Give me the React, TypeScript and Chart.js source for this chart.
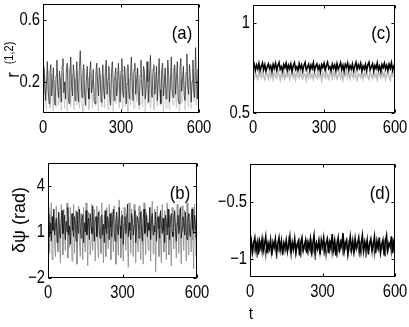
import React, { useEffect, useRef } from "react";
import { Chart, registerables } from "chart.js";
Chart.register(...registerables);

const W = 409;
const H = 327;
const timeSpan = [0, 600];
const xTicks = [0, 300, 600];

const aBlack = [
  0.12, 0.30, 0.22, 0.08, 0.18, 0.33, 0.15, 0.06, 0.26, 0.31,
  0.11, 0.19, 0.29, 0.09, 0.05, 0.24, 0.34, 0.17, 0.10, 0.27,
  0.21, 0.07, 0.30, 0.35, 0.13, 0.20, 0.09, 0.28, 0.32, 0.12,
  0.06, 0.23, 0.36, 0.18, 0.11, 0.31, 0.25, 0.08, 0.19, 0.33,
  0.14, 0.07, 0.29, 0.40, 0.22, 0.10, 0.26, 0.31, 0.12, 0.05,
  0.21, 0.30, 0.16, 0.09, 0.27, 0.33, 0.13, 0.18, 0.28, 0.08,
  0.06, 0.25, 0.32, 0.20, 0.11, 0.29, 0.24, 0.07, 0.17, 0.31,
  0.15, 0.09, 0.28, 0.34, 0.12, 0.22, 0.30, 0.10, 0.05, 0.26,
  0.33, 0.19, 0.08, 0.24, 0.29, 0.11, 0.16, 0.32, 0.21, 0.07,
  0.27, 0.35, 0.14, 0.10, 0.30, 0.23, 0.06, 0.19, 0.31, 0.13,
  0.09, 0.26, 0.36, 0.17, 0.08, 0.28, 0.32, 0.12, 0.21, 0.29,
  0.10, 0.05, 0.24, 0.34, 0.18, 0.11, 0.30, 0.27, 0.09, 0.16,
  0.33, 0.20, 0.07, 0.25, 0.37, 0.14, 0.10, 0.28, 0.31, 0.12,
  0.18, 0.30, 0.08, 0.22, 0.35, 0.15, 0.06, 0.27, 0.32, 0.11,
  0.20, 0.29, 0.09, 0.13, 0.34, 0.24, 0.07, 0.19, 0.36, 0.16,
  0.10, 0.28, 0.31, 0.12, 0.23, 0.33, 0.09, 0.06, 0.29, 0.35,
  0.14, 0.21, 0.30, 0.11, 0.08, 0.26, 0.38, 0.17, 0.12, 0.31,
  0.24, 0.07, 0.20, 0.34, 0.13, 0.10, 0.42, 0.22, 0.09, 0.28,
  0.16,
];
const aGray = [
  0.04, 0.15, 0.24, 0.08, 0.02, 0.19, 0.27, 0.10, 0.03, 0.17,
  0.25, 0.06, 0.01, 0.21, 0.14, 0.04, 0.28, 0.18, 0.05, 0.11,
  0.23, 0.02, 0.09, 0.26, 0.16, 0.03, 0.20, 0.12, 0.01, 0.24,
  0.29, 0.07, 0.04, 0.18, 0.25, 0.09, 0.02, 0.22, 0.15, 0.05,
  0.27, 0.19, 0.03, 0.13, 0.24, 0.06, 0.01, 0.20, 0.28, 0.10,
  0.04, 0.16, 0.23, 0.02, 0.08, 0.26, 0.14, 0.03, 0.21, 0.18,
  0.05, 0.12, 0.27, 0.07, 0.01, 0.22, 0.25, 0.09, 0.04, 0.19,
  0.24, 0.03, 0.15, 0.28, 0.11, 0.02, 0.20, 0.17, 0.05, 0.26,
  0.13, 0.01, 0.23, 0.21, 0.06, 0.10, 0.27, 0.08, 0.03, 0.18,
  0.25, 0.12, 0.02, 0.24, 0.16, 0.04, 0.29, 0.14, 0.01, 0.20,
  0.22, 0.05, 0.11, 0.26, 0.09, 0.03, 0.19, 0.24, 0.07, 0.15,
  0.28, 0.02, 0.06, 0.21, 0.17, 0.04, 0.25, 0.13, 0.01, 0.23,
  0.19, 0.06, 0.14, 0.27, 0.03, 0.09, 0.24, 0.18, 0.02, 0.16,
  0.26, 0.08, 0.04, 0.22, 0.20, 0.05, 0.13, 0.28, 0.10, 0.01,
  0.18, 0.25, 0.03, 0.12, 0.23, 0.07, 0.02, 0.21, 0.26, 0.09,
  0.05, 0.17, 0.29, 0.11, 0.03, 0.24, 0.15, 0.01, 0.20, 0.22,
  0.06, 0.10, 0.27, 0.14, 0.02, 0.19, 0.25, 0.08, 0.04, 0.23,
  0.16, 0.03, 0.21, 0.28, 0.07, 0.12, 0.26, 0.05, 0.18, 0.24,
  0.09,
];

const bBlack = [
  1.3, 2.2, 0.7, 1.6, 0.4, 2.0, 1.1, 2.5, 0.8, 1.4,
  1.9, 0.3, 1.5, 2.3, 1.0, 0.6, 1.8, 2.4, 0.9, 1.2,
  2.1, 0.5, 1.7, 1.0, 2.6, 0.8, 1.4, 0.2, 1.9, 2.2,
  1.1, 0.7, 2.0, 1.5, 0.4, 2.3, 1.2, 0.9, 2.5, 1.3,
  0.6, 1.8, 2.1, 0.3, 1.6, 1.0, 2.4, 0.8, 1.5, 1.9,
  0.5, 2.2, 1.3, 0.9, 2.7, 1.1, 0.4, 1.7, 2.0, 0.7,
  1.4, 2.3, 1.0, 0.6, 1.9, 2.1, 0.8, 1.5, 0.3, 2.4,
  1.2, 0.9, 2.0, 1.6, 0.5, 2.2, 1.3, 0.7, 1.8, 2.5,
  1.0, 0.4, 1.7, 2.3, 1.1, 0.8, 2.6, 1.4, 0.6, 1.9,
  2.1, 0.2, 1.5, 2.0, 0.9, 1.3, 2.8, 0.7, 1.6, 1.1,
  0.5, 2.2, 1.8, 0.8, 1.4, 2.4, 0.3, 1.2, 2.0, 1.7,
  0.6, 1.5, 2.3, 1.0, 0.4, 1.9, 2.5, 0.9, 1.3, 2.1,
  0.7, 1.6, 1.1, 2.6, 0.5, 1.8, 2.2, 0.8, 1.4, 1.0,
  2.3, 0.4, 1.7, 2.0, 1.2, 0.6, 2.4, 1.5, 0.9, 1.9,
  1.1, 0.3, 2.1, 1.6, 0.8, 2.5, 1.3, 0.5, 1.8, 2.2,
  1.0, 0.7, 1.9, 2.4, 1.2, 0.4, 1.6, 2.1, 0.9, 1.4,
  2.6, 0.6, 1.3, 2.0, 1.7, 0.8, 2.3, 1.1, 0.5, 1.9,
  2.2, 1.0, 0.7, 1.8, 2.5, 1.2, 0.9, 2.1, 1.5, 0.6,
  1.4,
];
const bGray = [
  0.6, 2.6, -0.4, 1.8, 2.9, -0.8, 1.3, 2.4, 0.1, -0.6,
  2.7, 1.0, -0.3, 2.2, 0.4, -1.0, 2.8, 1.5, -0.5, 2.5,
  0.8, -0.2, 2.3, 2.9, -0.7, 1.2, 0.0, 2.6, 1.7, -0.9,
  0.5, 2.8, -0.4, 1.9, 2.4, -1.1, 0.9, 2.7, 0.3, -0.6,
  2.2, 1.4, -0.8, 2.6, 0.7, -0.3, 2.9, 1.1, -1.2, 2.3,
  1.6, -0.5, 0.4, 2.8, -0.2, 1.9, 2.5, -0.9, 1.0, 2.7,
  0.2, -0.7, 2.4, 1.3, -0.4, 2.9, 0.8, -1.0, 2.1, 1.7,
  -0.6, 2.6, 0.5, -0.1, 2.8, 1.2, -0.8, 2.3, 0.9, -0.3,
  2.7, 1.5, -1.1, 2.0, 0.6, -0.5, 3.1, 1.1, -0.7, 2.4,
  0.3, -0.9, 2.6, 1.8, -0.2, 2.2, 0.7, -1.3, 2.9, 1.4,
  -0.4, 2.5, 0.9, -0.6, 2.8, 1.6, -1.0, 2.1, 0.4, -0.3,
  2.7, 1.2, -0.8, 2.4, 0.6, -1.1, 2.9, 1.0, -0.5, 2.3,
  1.7, -0.2, 0.5, 2.6, -0.9, 1.9, 3.0, -0.4, 1.3, 2.5,
  -1.6, 0.8, 2.7, 1.1, -0.6, 2.2, 0.2, -1.0, 2.8, 1.5,
  -0.3, 2.4, 0.7, -0.8, 2.9, 1.2, -0.5, 2.1, 0.4, -1.2,
  2.6, 1.8, -0.1, 2.3, 0.9, -0.7, 2.8, 1.4, -0.4, 2.5,
  0.6, -1.1, 2.7, 1.0, -0.2, 2.4, 1.6, -0.9, 2.9, 0.8,
  -0.5, 2.2, 1.3, -0.3, 2.6, 0.5, -1.4, 2.8, 1.1, -0.6,
  1.9,
];

const cBlack = [
  0.752, 0.771, 0.738, 0.766, 0.744, 0.775, 0.735, 0.760, 0.778, 0.741,
  0.768, 0.733, 0.757, 0.773, 0.746, 0.762, 0.731, 0.770, 0.749, 0.776,
  0.739, 0.764, 0.781, 0.743, 0.758, 0.734, 0.769, 0.751, 0.777, 0.737,
  0.765, 0.745, 0.772, 0.732, 0.761, 0.779, 0.742, 0.756, 0.736, 0.774,
  0.748, 0.767, 0.733, 0.763, 0.780, 0.740, 0.755, 0.771, 0.738, 0.766,
  0.747, 0.778, 0.735, 0.759, 0.773, 0.744, 0.762, 0.730, 0.769, 0.753,
  0.776, 0.739, 0.764, 0.782, 0.746, 0.757, 0.734, 0.771, 0.750, 0.767,
  0.736, 0.774, 0.743, 0.760, 0.779, 0.741, 0.765, 0.732, 0.770, 0.754,
  0.777, 0.738, 0.763, 0.745, 0.772, 0.735, 0.758, 0.780, 0.742, 0.768,
  0.749, 0.775, 0.733, 0.761, 0.744, 0.770, 0.737, 0.766, 0.781, 0.740,
  0.756, 0.773, 0.734, 0.764, 0.747, 0.778, 0.739, 0.760, 0.731, 0.769,
  0.752, 0.776, 0.743, 0.765, 0.736, 0.771, 0.748, 0.779, 0.738, 0.762,
  0.757,
];
const cGray = [
  0.712, 0.694, 0.731, 0.702, 0.689, 0.725, 0.708, 0.697, 0.738, 0.703,
  0.686, 0.721, 0.714, 0.692, 0.734, 0.700, 0.718, 0.688, 0.727, 0.706,
  0.695, 0.740, 0.710, 0.684, 0.723, 0.701, 0.732, 0.693, 0.716, 0.705,
  0.728, 0.690, 0.711, 0.736, 0.698, 0.720, 0.687, 0.726, 0.709, 0.696,
  0.733, 0.704, 0.691, 0.719, 0.713, 0.685, 0.729, 0.702, 0.737, 0.699,
  0.715, 0.689, 0.724, 0.707, 0.694, 0.741, 0.703, 0.717, 0.682, 0.722,
  0.710, 0.696, 0.730, 0.701, 0.688, 0.726, 0.712, 0.693, 0.735, 0.704,
  0.719, 0.690, 0.708, 0.732, 0.697, 0.723, 0.686, 0.716, 0.706, 0.739,
  0.699, 0.721, 0.692, 0.728, 0.710, 0.695, 0.734, 0.703, 0.684, 0.718,
  0.713, 0.698, 0.727, 0.691, 0.720, 0.705, 0.737, 0.700, 0.688, 0.724,
  0.709, 0.694, 0.731, 0.702, 0.717, 0.687, 0.725, 0.711, 0.696, 0.738,
  0.704, 0.722, 0.690, 0.714, 0.729, 0.699, 0.683, 0.720, 0.707, 0.733,
  0.712,
];

const dBlack = [
  -0.88, -0.83, -0.94, -0.86, -0.81, -0.92, -0.85, -0.96, -0.84, -0.90,
  -0.82, -0.93, -0.87, -0.80, -0.95, -0.86, -0.91, -0.83, -0.97, -0.85,
  -0.89, -0.82, -0.94, -0.87, -0.81, -0.92, -0.84, -0.96, -0.86, -0.90,
  -0.83, -0.93, -0.88, -0.80, -0.95, -0.85, -0.91, -0.82, -0.94, -0.87,
  -0.84, -0.97, -0.86, -0.81, -0.92, -0.88, -0.83, -0.95, -0.85, -0.90,
  -0.82, -0.94, -0.87, -0.79, -0.93, -0.86, -0.91, -0.84, -0.96, -0.83,
  -0.89, -0.81, -0.93, -0.86, -0.82, -0.95, -0.85, -0.90, -0.78, -0.92,
  -0.84, -0.97, -0.87, -0.81, -0.94, -0.85, -0.89, -0.77, -0.93, -0.86,
  -0.83, -0.96, -0.88, -0.80, -0.92, -0.84, -0.95, -0.82, -0.90, -0.86,
  -0.81, -0.94, -0.87, -0.79, -0.93, -0.85, -0.91, -0.83, -0.96, -0.86,
  -0.82, -0.92, -0.88, -0.80, -0.95, -0.84, -0.90, -0.81, -0.94, -0.87,
  -0.83, -0.97, -0.85, -0.79, -0.92, -0.86, -0.89, -0.80, -0.95, -0.84,
  -0.87,
];
const dGray = [
  -0.91, -0.86, -0.97, -0.84, -0.93, -0.88, -0.99, -0.85, -0.92, -0.87,
  -0.95, -0.83, -0.90, -0.98, -0.86, -0.94, -0.89, -0.84, -0.96, -0.88,
  -0.92, -0.85, -1.00, -0.87, -0.93, -0.90, -0.84, -0.97, -0.86, -0.94,
  -0.89, -0.95, -0.83, -0.91, -0.98, -0.87, -0.93, -0.85, -0.96, -0.88,
  -0.90, -0.84, -0.99, -0.86, -0.94, -0.89, -0.92, -0.83, -0.97, -0.87,
  -0.93, -0.85, -0.95, -0.88, -1.01, -0.86, -0.91, -0.84, -0.96, -0.89,
  -0.87, -0.94, -0.85, -0.98, -0.90, -0.86, -0.93, -0.83, -0.96, -0.88,
  -0.92, -0.85, -0.99, -0.87, -0.94, -0.89, -0.84, -0.97, -0.86, -0.91,
  -0.88, -0.95, -0.83, -0.93, -0.90, -0.86, -0.98, -0.85, -0.92, -0.87,
  -0.94, -0.84, -0.96, -0.89, -0.91, -0.85, -0.99, -0.87, -0.93, -0.88,
  -0.86, -0.95, -0.84, -0.97, -0.90, -0.87, -0.92, -0.83, -0.96, -0.88,
  -0.91, -0.85, -0.98, -0.86, -0.94, -0.89, -0.87, -0.95, -0.84, -0.92,
  -0.90,
];

const aYTicks = [0.2, 0.6];
const bYTicks = [-2, 1, 4];
const cYTicks = [0.5, 1];
const dYTicks = [-1, -0.5];

const FONT = '"Liberation Sans", Arial, sans-serif';
const TICK_SIZE = 18;
const SQUEEZE = 0.82;

type Series = { data: number[]; color: string; width: number };
type Panel = {
  area: { l: number; t: number; r: number; b: number };
  yMin: number;
  yMax: number;
  yTicks: number[];
  series: Series[];
};

const panels: Panel[] = [
  {
    area: { l: 43, t: 4, r: 199, b: 113 },
    yMin: 0, yMax: 0.7, yTicks: aYTicks,
    series: [
      { data: aBlack, color: "#1a1a1a", width: 0.7 },
      { data: aGray, color: "#c4c4c4", width: 0.8 },
    ],
  },
  {
    area: { l: 48, t: 163, r: 197, b: 278 },
    yMin: -2, yMax: 5.5, yTicks: bYTicks,
    series: [
      { data: bBlack, color: "#111111", width: 0.8 },
      { data: bGray, color: "#8a8a8a", width: 0.8 },
    ],
  },
  {
    area: { l: 253, t: 5, r: 395, b: 113 },
    yMin: 0.5, yMax: 1.1, yTicks: cYTicks,
    series: [
      { data: cBlack, color: "#000000", width: 1.6 },
      { data: cGray, color: "#bdbdbd", width: 1.6 },
    ],
  },
  {
    area: { l: 250, t: 164, r: 395, b: 277 },
    yMin: -1.16, yMax: -0.16, yTicks: dYTicks,
    series: [
      { data: dBlack, color: "#000000", width: 1.5 },
      { data: dGray, color: "#5a5a5a", width: 1.2 },
    ],
  },
];

const fmt = (v: number) => String(v).replace("-", "\u2212");

const framePlugin = {
  id: "frame",
  afterDatasetsDraw(chart: any) {
    const { ctx, chartArea: a, scales } = chart;
    ctx.save();
    ctx.strokeStyle = "#000";
    ctx.lineWidth = 1;
    const L = Math.round(a.left) + 0.5;
    const R = Math.round(a.right) - 0.5;
    const T = Math.round(a.top) + 0.5;
    const B = Math.round(a.bottom) - 0.5;
    ctx.strokeRect(L, T, R - L, B - T);
    const tl = 3;
    ctx.beginPath();
    scales.x.ticks.forEach((t: any) => {
      const x = Math.round(scales.x.getPixelForValue(t.value)) + 0.5;
      ctx.moveTo(x, B);
      ctx.lineTo(x, B - tl);
      ctx.moveTo(x, T);
      ctx.lineTo(x, T + tl);
    });
    scales.y.ticks.forEach((t: any) => {
      const y = Math.round(scales.y.getPixelForValue(t.value)) + 0.5;
      ctx.moveTo(L, y);
      ctx.lineTo(L + tl, y);
      ctx.moveTo(R, y);
      ctx.lineTo(R - tl, y);
    });
    ctx.stroke();

    const drawLabel = (text: string, x: number, y: number, align: CanvasTextAlign) => {
      ctx.save();
      ctx.translate(x, y);
      ctx.scale(SQUEEZE, 1);
      ctx.fillStyle = "#000";
      ctx.font = `${TICK_SIZE}px ${FONT}`;
      ctx.textAlign = align;
      ctx.textBaseline = "middle";
      ctx.fillText(text, 0, 0);
      ctx.restore();
    };
    scales.x.ticks.forEach((t: any) => {
      drawLabel(fmt(t.value), scales.x.getPixelForValue(t.value), a.bottom + 15, "center");
    });
    scales.y.ticks.forEach((t: any) => {
      drawLabel(fmt(t.value), a.left - 3, scales.y.getPixelForValue(t.value), "right");
    });
    ctx.restore();
  },
};

function PanelChart({ panel }: { panel: Panel }) {
  const ref = useRef<HTMLCanvasElement>(null);
  useEffect(() => {
    const p = panel;
    const YW = 40;
    const XH = 30;
    const chart = new Chart(ref.current as HTMLCanvasElement, {
      type: "line",
      data: {
        datasets: p.series.map((s) => ({
          data: s.data.map((y, i) => ({
            x: timeSpan[0] + (i * (timeSpan[1] - timeSpan[0])) / (s.data.length - 1),
            y,
          })),
          borderColor: s.color,
          borderWidth: s.width,
          pointRadius: 0,
          tension: 0,
          fill: false,
        })),
      },
      options: {
        responsive: false,
        animation: false,
        events: [],
        layout: {
          padding: {
            left: p.area.l - YW,
            top: p.area.t,
            right: W - p.area.r,
            bottom: H - p.area.b - XH,
          },
        },
        plugins: { legend: { display: false }, tooltip: { enabled: false } },
        scales: {
          x: {
            type: "linear",
            min: timeSpan[0],
            max: timeSpan[1],
            afterBuildTicks: (s: any) => {
              s.ticks = xTicks.map((v) => ({ value: v }));
            },
            afterFit: (s: any) => {
              s.height = XH;
            },
            grid: { display: false, drawTicks: false },
            border: { display: false },
            ticks: { display: false },
          },
          y: {
            type: "linear",
            min: p.yMin,
            max: p.yMax,
            afterBuildTicks: (s: any) => {
              s.ticks = p.yTicks.map((v) => ({ value: v }));
            },
            afterFit: (s: any) => {
              s.width = YW;
            },
            grid: { display: false, drawTicks: false },
            border: { display: false },
            ticks: { display: false },
          },
        },
      } as any,
      plugins: [framePlugin],
    });
    return () => chart.destroy();
  }, [panel]);
  return (
    <canvas
      ref={ref}
      width={W}
      height={H}
      style={{ position: "absolute", left: 0, top: 0, width: W, height: H }}
    />
  );
}

const labelStyle = (
  x: number,
  y: number,
  size: number,
  rotate = false,
  squeeze = 1
): React.CSSProperties => ({
  position: "absolute",
  left: x,
  top: y,
  transform: `translate(-50%, -50%)${rotate ? " rotate(-90deg)" : ""} scaleX(${squeeze})`,
  fontFamily: FONT,
  fontSize: size,
  color: "#000",
  whiteSpace: "nowrap",
  lineHeight: 1,
});

export default function App() {
  return (
    <div
      style={{
        position: "absolute",
        left: 0,
        top: 0,
        width: W,
        height: H,
        background: "#fff",
        overflow: "hidden",
      }}
    >
      {panels.map((p, i) => (
        <PanelChart key={i} panel={p} />
      ))}
      <div style={labelStyle(182, 32, 19, false, 0.88)}>(a)</div>
      <div style={labelStyle(381, 32, 19, false, 0.88)}>(c)</div>
      <div style={labelStyle(180, 192, 19, false, 0.88)}>(b)</div>
      <div style={labelStyle(380, 192, 19, false, 0.88)}>(d)</div>
      <div style={labelStyle(13, 75, 18, true, 0.9)}>r</div>
      <div style={labelStyle(8, 53, 13, true, 0.85)}>(1,2)</div>
      <div style={labelStyle(19, 220, 18, true)}>δψ (rad)</div>
      <div style={labelStyle(251, 313, 17, false, 0.9)}>t</div>
    </div>
  );
}
